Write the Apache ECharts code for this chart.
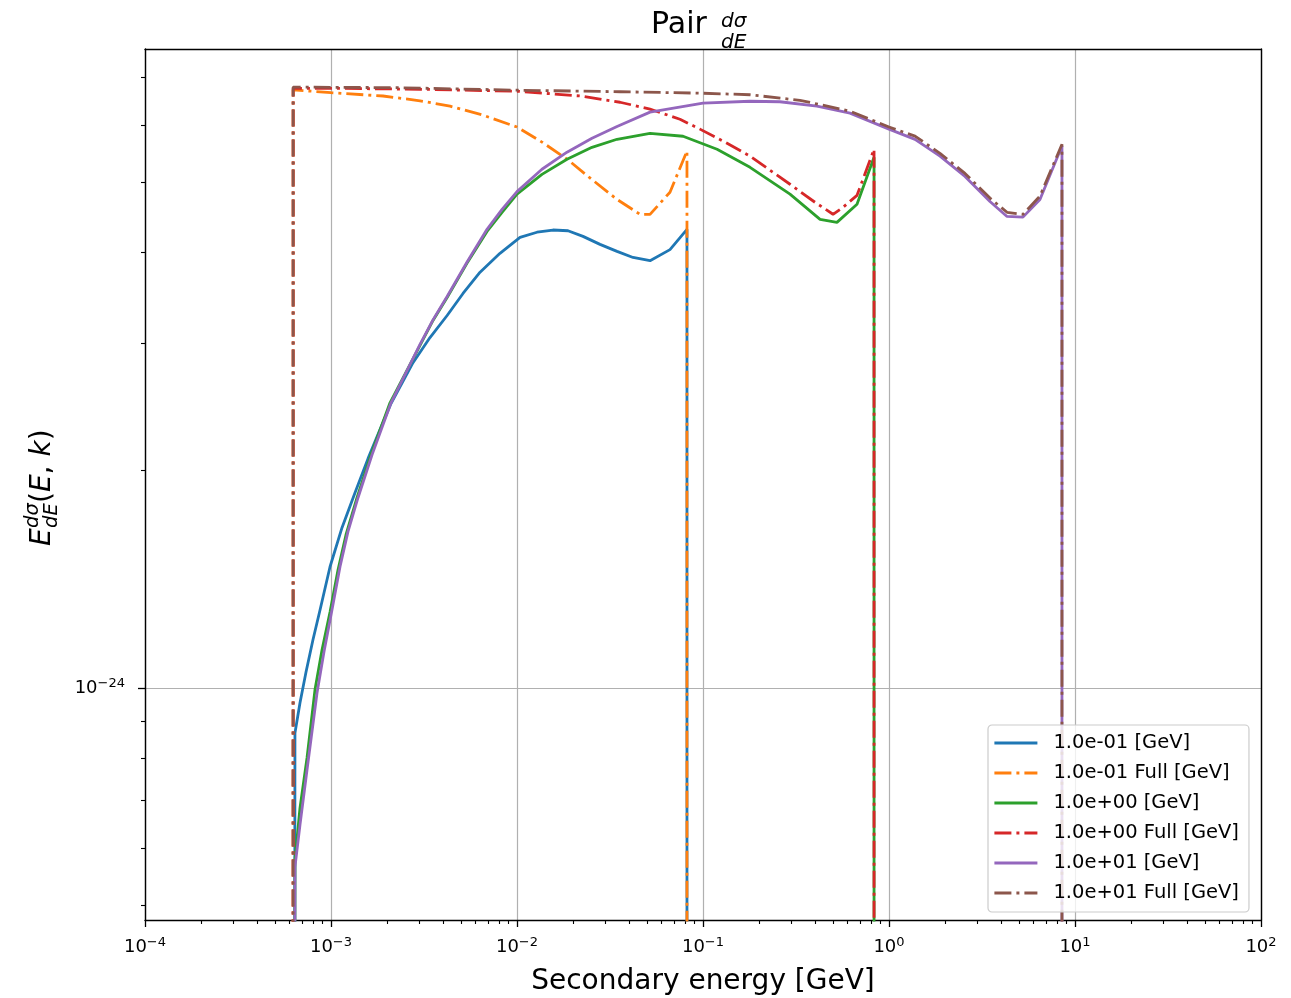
<!DOCTYPE html>
<html><head><meta charset="utf-8">
<script src="https://cdn.jsdelivr.net/npm/echarts@6/dist/echarts.min.js"></script>
<style>html,body{margin:0;padding:0;background:#fff}#c{width:1291px;height:998px}</style>
</head><body><div id="c"></div>
<script>
// ---------- data ----------
const seriesNames = ['1.0e-01 [GeV]', '1.0e-01 Full [GeV]', '1.0e+00 [GeV]', '1.0e+00 Full [GeV]', '1.0e+01 [GeV]', '1.0e+01 Full [GeV]'];
const xTickExponents = [-4, -3, -2, -1, 0, 1, 2];
const yTickExponents = [-24];
const xRange = [1e-4, 1e2];
const yRange = [4.775e-25, 7.654e-24];
const OFF = 1e-27; // value far below the axis (curve drops out of view)

// 1.0e-01 [GeV]
const e01E = [6.25e-4, 6.40e-4, 6.81e-4, 7.34e-4, 8.00e-4, 8.73e-4, 9.88e-4, 1.146e-3, 1.346e-3, 1.581e-3, 1.834e-3, 2.102e-3, 2.76e-3, 3.405e-3, 4.21e-3, 5.125e-3, 6.33e-3, 8.10e-3, 1.038e-2, 1.281e-2, 1.56e-2, 1.88e-2, 2.264e-2, 2.795e-2, 3.45e-2, 4.205e-2, 5.19e-2, 6.645e-2, 8.2e-2, 8.2e-2];
const e01V = [OFF, 0.866e-24, 0.953e-24, 1.052e-24, 1.166e-24, 1.282e-24, 1.471e-24, 1.666e-24, 1.862e-24, 2.076e-24, 2.277e-24, 2.474e-24, 2.818e-24, 3.053e-24, 3.275e-24, 3.513e-24, 3.76e-24, 3.992e-24, 4.20e-24, 4.27e-24, 4.30e-24, 4.29e-24, 4.214e-24, 4.108e-24, 4.017e-24, 3.94e-24, 3.90e-24, 4.04e-24, 4.31e-24, OFF];
// 1.0e-01 Full [GeV]
const e01FullE = [6.25e-4, 6.26e-4, 1.0e-3, 1.905e-3, 3.01e-3, 4.365e-3, 6.56e-3, 1.0e-2, 1.362e-2, 1.857e-2, 2.53e-2, 3.45e-2, 4.585e-2, 5.19e-2, 6.645e-2, 8.2e-2, 8.2e-2];
const e01FullV = [OFF, 6.72e-24, 6.66e-24, 6.59e-24, 6.49e-24, 6.38e-24, 6.20e-24, 5.97e-24, 5.69e-24, 5.39e-24, 5.05e-24, 4.74e-24, 4.52e-24, 4.52e-24, 4.85e-24, 5.53e-24, OFF];
// 1.0e+00 [GeV]
const e00E = [6.25e-4, 6.40e-4, 6.81e-4, 7.43e-4, 8.20e-4, 8.95e-4, 9.88e-4, 1.091e-3, 1.204e-3, 1.38e-3, 1.641e-3, 2.076e-3, 3.01e-3, 3.535e-3, 4.21e-3, 5.38e-3, 6.90e-3, 8.31e-3, 1.0e-2, 1.362e-2, 1.857e-2, 2.53e-2, 3.45e-2, 5.19e-2, 7.81e-2, 0.119, 0.179, 0.2936, 0.426, 0.525, 0.673, 0.831, 0.831];
const e00V = [OFF, 0.578e-24, 0.682e-24, 0.80e-24, 0.994e-24, 1.129e-24, 1.274e-24, 1.457e-24, 1.629e-24, 1.833e-24, 2.102e-24, 2.48e-24, 2.977e-24, 3.224e-24, 3.469e-24, 3.867e-24, 4.281e-24, 4.549e-24, 4.82e-24, 5.134e-24, 5.387e-24, 5.596e-24, 5.741e-24, 5.852e-24, 5.797e-24, 5.562e-24, 5.251e-24, 4.82e-24, 4.448e-24, 4.406e-24, 4.667e-24, 5.42e-24, OFF];
// 1.0e+00 Full [GeV]
const e00FullE = [6.25e-4, 6.26e-4, 1.0e-3, 3.01e-3, 1.0e-2, 2.182e-2, 3.58e-2, 5.19e-2, 7.52e-2, 9.63e-2, 0.1313, 0.179, 0.2936, 0.4002, 0.5, 0.566, 0.673, 0.831, 0.831];
const e00FullV = [OFF, 6.753e-24, 6.753e-24, 6.733e-24, 6.69e-24, 6.59e-24, 6.46e-24, 6.32e-24, 6.12e-24, 5.93e-24, 5.69e-24, 5.44e-24, 4.975e-24, 4.697e-24, 4.521e-24, 4.622e-24, 4.802e-24, 5.562e-24, OFF];
// 1.0e+01 [GeV]
const e10E = [6.25e-4, 6.40e-4, 6.81e-4, 7.43e-4, 8.41e-4, 9.17e-4, 1.012e-3, 1.118e-3, 1.234e-3, 1.397e-3, 1.662e-3, 2.102e-3, 3.01e-3, 3.535e-3, 4.21e-3, 5.38e-3, 6.90e-3, 8.31e-3, 1.0e-2, 1.362e-2, 1.857e-2, 2.53e-2, 3.45e-2, 5.19e-2, 0.1, 0.179, 0.259, 0.410, 0.617, 1.0, 1.38, 1.88, 2.562, 3.49, 4.31, 5.25, 6.48, 8.51, 8.51];
const e10V = [OFF, 0.565e-24, 0.646e-24, 0.770e-24, 0.984e-24, 1.122e-24, 1.282e-24, 1.471e-24, 1.645e-24, 1.833e-24, 2.102e-24, 2.48e-24, 2.987e-24, 3.23e-24, 3.48e-24, 3.88e-24, 4.31e-24, 4.592e-24, 4.86e-24, 5.218e-24, 5.51e-24, 5.76e-24, 5.98e-24, 6.26e-24, 6.44e-24, 6.48e-24, 6.47e-24, 6.38e-24, 6.24e-24, 5.93e-24, 5.74e-24, 5.44e-24, 5.10e-24, 4.71e-24, 4.49e-24, 4.48e-24, 4.74e-24, 5.62e-24, OFF];
// 1.0e+01 Full [GeV]
const e10FullE = [6.25e-4, 6.26e-4, 2.35e-3, 1.0e-2, 3.58e-2, 9.63e-2, 0.179, 0.332, 0.617, 1.0, 1.38, 1.88, 2.562, 3.49, 4.31, 5.25, 6.48, 8.51, 8.51];
const e10FullV = [OFF, 6.78e-24, 6.766e-24, 6.713e-24, 6.68e-24, 6.65e-24, 6.616e-24, 6.50e-24, 6.28e-24, 5.97e-24, 5.80e-24, 5.49e-24, 5.15e-24, 4.76e-24, 4.55e-24, 4.52e-24, 4.79e-24, 5.65e-24, OFF];

const colors = ['#1f77b4', '#ff7f0e', '#2ca02c', '#d62728', '#9467bd', '#8c564b'];
const dashed = [false, true, false, true, false, true];
const seriesE = [e01E, e01FullE, e00E, e00FullE, e10E, e10FullE];
const seriesV = [e01V, e01FullV, e00V, e00FullV, e10V, e10FullV];

// ---------- chart ----------
const FONT = 'DejaVu Sans';
const L10 = Math.log10;
const xMin = L10(xRange[0]), xMax = L10(xRange[1]);
const yMin = L10(yRange[0]), yMax = L10(yRange[1]);
const minorX = [];
for (let n = Math.floor(xMin); n < Math.ceil(xMax); n++) for (let k = 2; k <= 9; k++) { const v = n + L10(k); if (v > xMin && v < xMax) minorX.push(v); }
const minorY = [];
for (let n = Math.floor(yMin); n < Math.ceil(yMax); n++) for (let k = 2; k <= 9; k++) { const v = n + L10(k); if (v > yMin && v < yMax) minorY.push(v); }

const fmtPow = v => { const n = Math.round(v); return '{b|10}{s|' + (n < 0 ? '\u2212' + (-n) : String(n)) + '}'; };
const powRich = { b: { fontSize: 18, fontFamily: FONT, color: '#000' }, s: { fontSize: 13, fontFamily: FONT, color: '#000', padding: [0, 0, 9, 0] } };
const spine = { show: true, onZero: false, lineStyle: { color: '#000', width: 1.4 } };
const noLine = { show: false, onZero: false };

const DASH = [17, 5, 3, 5];
const series = seriesNames.map((name, i) => ({
  name, type: 'line', xAxisIndex: 0, yAxisIndex: 0,
  data: seriesE[i].map((e, j) => [L10(e), L10(seriesV[i][j])]),
  symbol: 'none', showSymbol: false, smooth: false, clip: true,
  lineStyle: { color: colors[i], width: 2.8, type: dashed[i] ? DASH : 'solid', cap: 'butt' },
  itemStyle: { color: colors[i] },
  emphasis: { disabled: true }, animation: false
}));

const chart = echarts.init(document.getElementById('c'), null, { renderer: 'canvas' });
chart.setOption({
  animation: false,
  backgroundColor: '#fff',
  grid: { left: 145, right: 30, top: 49, bottom: 78, containLabel: false, outerBoundsMode: 'none' },
  xAxis: [
    { type: 'value', min: xMin, max: xMax, interval: 1, position: 'bottom',
      axisLine: spine,
      axisTick: { show: true, length: 7, lineStyle: { color: '#000', width: 1.3 } },
      axisLabel: { formatter: fmtPow, rich: powRich, margin: 16, color: '#000' },
      splitLine: { show: true, lineStyle: { color: '#b0b0b0', width: 1.2 } },
      name: 'Secondary energy [GeV]', nameLocation: 'middle', nameGap: 48,
      nameTextStyle: { fontFamily: FONT, fontSize: 28, color: '#000' } },
    { type: 'value', min: xMin, max: xMax, position: 'bottom',
      axisLine: noLine, axisLabel: { show: false }, splitLine: { show: false },
      axisTick: { show: true, length: 4, customValues: minorX, lineStyle: { color: '#000', width: 1.1 } } },
    { type: 'value', min: xMin, max: xMax, position: 'top', z: 5,
      axisLine: spine, axisTick: { show: false }, axisLabel: { show: false }, splitLine: { show: false } }
  ],
  yAxis: [
    { type: 'value', min: yMin, max: yMax, position: 'left',
      axisLine: spine,
      axisTick: { show: true, length: 7, customValues: yTickExponents, lineStyle: { color: '#000', width: 1.3 } },
      axisLabel: { customValues: yTickExponents, formatter: fmtPow, rich: powRich, margin: 20, color: '#000' },
      splitLine: { show: true, lineStyle: { color: '#b0b0b0', width: 1.2 } } },
    { type: 'value', min: yMin, max: yMax, position: 'left',
      axisLine: noLine, axisLabel: { show: false }, splitLine: { show: false },
      axisTick: { show: true, length: 4, customValues: minorY, lineStyle: { color: '#000', width: 1.1 } } },
    { type: 'value', min: yMin, max: yMax, position: 'right', z: 5,
      axisLine: spine, axisTick: { show: false }, axisLabel: { show: false }, splitLine: { show: false } }
  ],
  legend: {
    orient: 'vertical', left: 988, top: 725,
    padding: [8, 10, 9, 5], itemWidth: 43, itemHeight: 14, itemGap: 10,
    backgroundColor: 'rgba(255,255,255,0.8)', borderColor: '#cccccc', borderWidth: 1.2, borderRadius: 4,
    itemStyle: { opacity: 0, borderWidth: 0 },
    lineStyle: { width: 2.8 },
    textStyle: { fontFamily: FONT, fontSize: 19.5, color: '#000', lineHeight: 20, padding: [0, 0, 0, 11] },
    data: seriesNames
  },
  graphic: [
    { type: 'text', left: 651, top: 10, style: { text: 'Pair', fontFamily: FONT, fontSize: 30, fill: '#000' } },
    { type: 'text', left: 721, top: 12, style: { text: 'd\u03c3', fontFamily: FONT, fontStyle: 'italic', fontSize: 20, fill: '#000' } },
    { type: 'text', left: 721, top: 33, style: { text: 'dE', fontFamily: FONT, fontStyle: 'italic', fontSize: 20, fill: '#000' } },
    { type: 'group', x: 43, y: 487, rotation: Math.PI / 2, children: [
      { type: 'text', x: -59, y: 0, style: { text: 'E', fontFamily: FONT, fontStyle: 'italic', fontSize: 28, fill: '#000', align: 'left', verticalAlign: 'middle' } },
      { type: 'text', x: -41, y: -10, style: { text: 'd\u03c3', fontFamily: FONT, fontStyle: 'italic', fontSize: 19.5, fill: '#000', align: 'left', verticalAlign: 'middle' } },
      { type: 'text', x: -41, y: 9, style: { text: 'dE', fontFamily: FONT, fontStyle: 'italic', fontSize: 19.5, fill: '#000', align: 'left', verticalAlign: 'middle' } },
      { type: 'text', x: -16, y: 0, style: { text: '{p|(}{i|E}{p|, }{i|k}{p|)}', align: 'left', verticalAlign: 'middle',
        rich: { p: { fontFamily: FONT, fontSize: 28, fill: '#000', color: '#000' }, i: { fontFamily: FONT, fontStyle: 'italic', fontSize: 28, fill: '#000', color: '#000' } } } }
    ] }
  ],
  series
});
</script>
</body></html>
